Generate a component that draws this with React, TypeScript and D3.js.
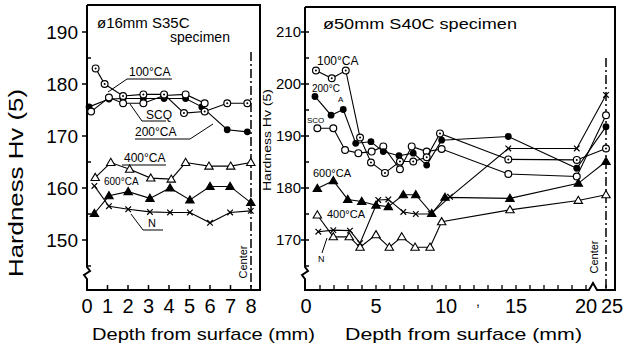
import React from "react";
import { scaleLinear, line } from "d3";

// --- left panel: phi16mm S35C ---
const leftDepthTicks = [0, 1, 2, 3, 4, 5, 6, 7, 8];
const leftHvTicks = [150, 160, 170, 180, 190];
const leftHvMinor = [145, 155, 165, 175, 185];

const l100Depth = [0.42, 0.86, 1.76, 2.75, 3.76, 4.73, 5.74, 6.84, 7.82];
const l100Hv = [183, 180, 177.7, 178, 178, 174.4, 174.7, 176.3, 176.3];
const lScqDepth = [0.2, 1.07, 1.76, 2.75, 3.76, 4.81, 5.74];
const lScqHv = [174.7, 177.4, 176.3, 176.3, 177.8, 178, 176.3];
const l200Depth = [0.1, 1.07, 1.76, 2.75, 3.76, 4.81, 5.6, 6.84, 7.82];
const l200Hv = [175.6, 177.1, 177.2, 177.2, 177.2, 177.2, 175.6, 171.2, 170.8];
const l400Depth = [0.4, 1.16, 2.08, 3.11, 4.11, 4.81, 5.95, 7.01, 7.99];
const l400Hv = [162, 164.9, 163.6, 161.9, 161.7, 164.9, 164.2, 164.2, 164.9];
const lLowDepth = [0.36, 1.07, 2.01, 3.07, 4.05, 5.02, 6, 6.98, 7.99];
const l600Hv = [155.1, 158.5, 159.3, 158, 160, 157.7, 160.3, 160.3, 157.2];
const lNHv = [160.4, 156.5, 155.9, 155.4, 155.3, 155.3, 153.3, 155.3, 155.6];

// --- right panel: phi50mm S40C ---
const rightDepthLabels = [0, 5, 10, 15, 20, 25];
const rightDepthMinor = [1, 2, 3, 4, 5, 6, 7, 8, 9, 10, 11, 12, 13, 14, 15, 16, 17, 18, 19, 20, 25];
const rightHvTicks = [170, 180, 190, 200, 210];
const rightHvMinor = [165, 175, 185, 195, 205];

const r100Depth = [0.71, 1.84, 2.84, 3.86, 4.64, 5.64, 6.71, 7.66, 8.62, 9.57, 14.45, 19.34, 25];
const r100Hv = [202.6, 201.1, 202.6, 189.7, 184.9, 182.9, 185.1, 185.1, 185.9, 190.5, 185.5, 185.4, 187.6];
const r200Depth = [0.64, 1.79, 2.66, 3.55, 4.64, 5.52, 6.64, 7.66, 8.62, 9.69, 14.45, 19.34, 25];
const r200Hv = [197.6, 194, 195.1, 188.6, 188.9, 187, 186.2, 186.7, 184.4, 189.2, 189.9, 183.8, 191.8];
const rScqDepth = [0.81, 1.95, 2.79, 3.74, 4.69, 5.52, 6.71, 7.55, 8.62, 9.69, 14.45, 19.34, 25];
const rScqHv = [191.5, 191.5, 187.3, 186.7, 187, 188, 183.6, 188, 187, 187.5, 182.7, 182.2, 194];
const r600Depth = [0.81, 1.95, 2.98, 3.98, 5, 5.88, 6.95, 7.84, 8.98, 9.93, 14.57, 19.45, 25];
const r600Hv = [179.9, 181.4, 177.8, 177.4, 176.7, 176.4, 178.7, 178.7, 175.1, 178.2, 178, 180.9, 185.1];
const r400Depth = [0.81, 1.95, 3.09, 3.86, 5, 5.95, 6.84, 7.79, 8.86, 9.69, 14.57, 19.45, 25];
const r400Hv = [174.8, 170.6, 170.6, 168.6, 171, 168.6, 170.6, 168.6, 168.6, 173.5, 175.8, 177.6, 178.7];
const rNDepth = [0.88, 1.95, 3.14, 3.86, 5.16, 5.88, 6.95, 7.84, 8.91, 10.29, 14.45, 19.34, 25];
const rNHv = [171.6, 171.9, 171.8, 169.4, 177.7, 177.8, 175.4, 175, 175, 178.3, 187.6, 187.6, 197.9];

type Mark = "dot" | "open" | "fill" | "tri" | "trifill" | "cross";

const FONT = "'Liberation Sans', Arial, sans-serif";

const xL = scaleLinear().domain([0, 8]).range([87, 251]);
const yL = scaleLinear().domain([150, 190]).range([240, 32]);
const xR = scaleLinear().domain([0, 20, 25]).range([306, 586, 606]);
const yR = scaleLinear().domain([170, 210]).range([240, 32]);

function Marker({ kind, x, y }: { kind: Mark; x: number; y: number }) {
  const r = 3.4;
  if (kind === "dot")
    return (
      <g>
        <circle cx={x} cy={y} r={r} fill="#fff" stroke="#000" strokeWidth={1.2} />
        <circle cx={x} cy={y} r={1} fill="#000" />
      </g>
    );
  if (kind === "open") return <circle cx={x} cy={y} r={r} fill="#fff" stroke="#000" strokeWidth={1.2} />;
  if (kind === "fill") return <circle cx={x} cy={y} r={r} fill="#000" />;
  if (kind === "tri" || kind === "trifill") {
    const s = 4.2;
    return (
      <path
        d={`M${x},${y - s}L${x + s},${y + s * 0.7}L${x - s},${y + s * 0.7}Z`}
        fill={kind === "tri" ? "#fff" : "#000"}
        stroke="#000"
        strokeWidth={1.1}
      />
    );
  }
  const c = 2.8;
  return (
    <path d={`M${x - c},${y - c}L${x + c},${y + c}M${x - c},${y + c}L${x + c},${y - c}`} stroke="#000" strokeWidth={1.2} />
  );
}

function Series({ depth, hv, kind, xs, ys }: { depth: number[]; hv: number[]; kind: Mark; xs: any; ys: any }) {
  const pts = depth.map((d, i) => [xs(d), ys(hv[i])] as [number, number]);
  const gen = line();
  return (
    <g>
      <path d={gen(pts) || ""} fill="none" stroke="#000" strokeWidth={1.1} />
      {pts.map((p, i) => (
        <Marker key={i} kind={kind} x={p[0]} y={p[1]} />
      ))}
    </g>
  );
}

export default function App() {
  const bottom = 290;
  const leftSeries: [number[], number[], Mark][] = [
    [l200Depth, l200Hv, "fill"],
    [lScqDepth, lScqHv, "open"],
    [l100Depth, l100Hv, "dot"],
    [l400Depth, l400Hv, "tri"],
    [lLowDepth, l600Hv, "trifill"],
    [lLowDepth, lNHv, "cross"],
  ];
  const rightSeries: [number[], number[], Mark][] = [
    [rScqDepth, rScqHv, "open"],
    [r200Depth, r200Hv, "fill"],
    [r100Depth, r100Hv, "dot"],
    [r400Depth, r400Hv, "tri"],
    [r600Depth, r600Hv, "trifill"],
    [rNDepth, rNHv, "cross"],
  ];

  return (
    <svg width={625} height={348} style={{ position: "absolute", left: 0, top: 0, background: "#fff" }} fontFamily={FONT}>
      {/* left frame */}
      <g stroke="#000" strokeWidth={2} fill="none">
        <path d={`M87,5H260V${bottom}H87V279L84,275L90,271L87,267V5`} />
      </g>
      {leftHvTicks.map((v) => (
        <g key={v}>
          <line x1={82} x2={87} y1={yL(v)} y2={yL(v)} stroke="#000" strokeWidth={1.5} />
          <text x={78} y={yL(v)} dy="0.36em" textAnchor="end" fontSize={19}>
            {v}
          </text>
        </g>
      ))}
      {leftHvMinor.map((v) => (
        <line key={v} x1={87} x2={91} y1={yL(v)} y2={yL(v)} stroke="#000" strokeWidth={1.5} />
      ))}
      {leftDepthTicks.map((d) => (
        <g key={d}>
          {d > 0 && <line x1={xL(d)} x2={xL(d)} y1={bottom} y2={bottom - 5} stroke="#000" strokeWidth={1.5} />}
          <text x={xL(d)} y={313} textAnchor="middle" fontSize={20}>
            {d}
          </text>
        </g>
      ))}
      <text x={92} y={340} fontSize={17} textLength={223} lengthAdjust="spacingAndGlyphs">
        Depth from surface (mm)
      </text>
      <text transform="translate(23,183) rotate(-90)" textAnchor="middle" fontSize={20} textLength={188} lengthAdjust="spacingAndGlyphs">
        Hardness  Hv (5)
      </text>
      {/* center line left */}
      <line x1={xL(8)} x2={xL(8)} y1={52} y2={bottom} stroke="#000" strokeWidth={1.5} strokeDasharray="9 3 2 3" />
      <text transform={`translate(${xL(8) - 4},262) rotate(-90)`} textAnchor="middle" fontSize={11}>
        Center
      </text>
      <text x={97} y={28} fontSize={15}>
        ø16mm S35C
      </text>
      <text x={170} y={42} fontSize={14}>
        specimen
      </text>

      {leftSeries.map(([d, h, k], i) => (
        <Series key={i} depth={d} hv={h} kind={k} xs={xL} ys={yL} />
      ))}

      {/* left series labels */}
      <g stroke="#000" strokeWidth={1} fill="none">
        <path d="M108,92L127,79H172" />
        <path d="M130,104L142,121H166" />
        <path d="M135,139H190L213,124" />
        <path d="M122,165H166" />
        <path d="M131,214L143,230H163" />
      </g>
      <g fontSize={12}>
        <text x={129} y={76}>100°CA</text>
        <text x={146} y={119}>SCQ</text>
        <text x={135} y={136}>200°CA</text>
        <text x={124} y={162}>400°CA</text>
        <text x={104} y={185} fontSize={10}>600°CA</text>
        <text x={148} y={227} fontSize={11}>N</text>
      </g>

      {/* right frame */}
      <g stroke="#000" strokeWidth={2} fill="none">
        <path d={`M305,7H615V${bottom}H597L593,283L589,${bottom}H305V279L302,275L308,271L305,267V7`} />
      </g>
      {rightHvTicks.map((v) => (
        <g key={v}>
          <line x1={301} x2={309} y1={yR(v)} y2={yR(v)} stroke="#000" strokeWidth={1.5} />
          <text x={301} y={yR(v)} dy="0.36em" textAnchor="end" fontSize={15}>
            {v}
          </text>
        </g>
      ))}
      {rightHvMinor.map((v) => (
        <line key={v} x1={305} x2={309} y1={yR(v)} y2={yR(v)} stroke="#000" strokeWidth={1.5} />
      ))}
      {rightDepthMinor.map((d) => (
        <line key={d} x1={xR(d)} x2={xR(d)} y1={bottom} y2={bottom - 5} stroke="#000" strokeWidth={1.3} />
      ))}
      {rightDepthLabels.map((d) => (
        <text key={d} x={d === 25 ? xR(d) + 6 : xR(d)} y={313} textAnchor="middle" fontSize={20}>
          {d}
        </text>
      ))}
      <text x={476} y={306} fontSize={14}>
        ,
      </text>
      <text x={345} y={340} fontSize={17} textLength={237} lengthAdjust="spacingAndGlyphs">
        Depth from surface (mm)
      </text>
      <text transform="translate(271,140) rotate(-90)" textAnchor="middle" fontSize={10} textLength={102} lengthAdjust="spacingAndGlyphs">
        Hardness  Hv (5)
      </text>
      <line x1={xR(25)} x2={xR(25)} y1={58} y2={bottom} stroke="#000" strokeWidth={1.5} strokeDasharray="9 3 2 3" />
      <text transform={`translate(${xR(25) - 8},257) rotate(-90)`} textAnchor="middle" fontSize={11}>
        Center
      </text>
      <text x={323} y={29} fontSize={15} textLength={194} lengthAdjust="spacingAndGlyphs">
        ø50mm S40C  specimen
      </text>

      {rightSeries.map(([d, h, k], i) => (
        <Series key={i} depth={d} hv={h} kind={k} xs={xR} ys={yR} />
      ))}

      <g fontSize={11}>
        <text x={317} y={65} fontSize={12}>100°CA</text>
        <text x={312} y={92} fontSize={10}>200°C</text>
        <text x={338} y={102} fontSize={8}>A</text>
        <text x={307} y={123} fontSize={8}>SCO</text>
        <text x={313} y={177}>600°CA</text>
        <text x={327} y={218}>400°CA</text>
        <text x={318} y={262} fontSize={9}>N</text>
      </g>
      <path d="M322,253L327,238" stroke="#000" strokeWidth={1} />
    </svg>
  );
}
